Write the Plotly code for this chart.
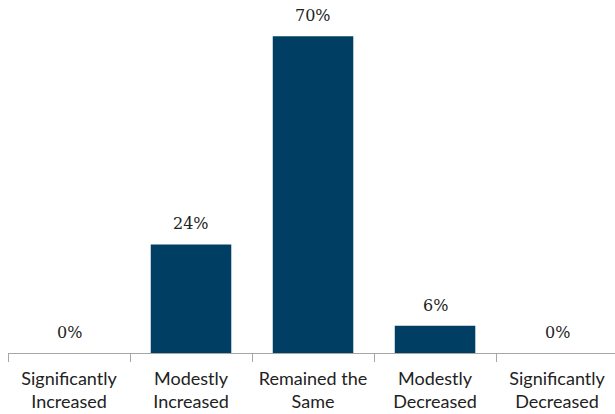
import plotly.graph_objects as go

categories = ["Significantly<br>Increased", "Modestly<br>Increased", "Remained the<br>Same",
              "Modestly<br>Decreased", "Significantly<br>Decreased"]
values = [0, 24, 70, 6, 0]
labels = ["0%", "24%", "70%", "6%", "0%"]

fig = go.Figure(go.Bar(
    x=categories, y=values,
    marker=dict(color="#003F63", line=dict(width=0)),
    width=0.66,
))
for c, v, t in zip(categories, values, labels):
    fig.add_annotation(x=c, y=v, text=t, showarrow=False, yanchor="bottom", yshift=9,
                       font=dict(family="DejaVu Serif", size=16, color="#222222"))
fig.update_layout(
    width=615, height=414,
    margin=dict(l=8, r=0, t=0, b=61),
    paper_bgcolor="white", plot_bgcolor="white",
    showlegend=False,
    xaxis=dict(range=[-0.5, 4.475], showline=True, linecolor="#A6A6A6", linewidth=1,
               ticks="outside", tickson="boundaries", ticklen=8, tickcolor="#A6A6A6",
               ticklabelstandoff=9,
               tickfont=dict(family="Lato", size=18, color="#222222"),
               showgrid=False),
    yaxis=dict(range=[0, 78], visible=False, showgrid=False),
)
fig.write_html("out.html")
